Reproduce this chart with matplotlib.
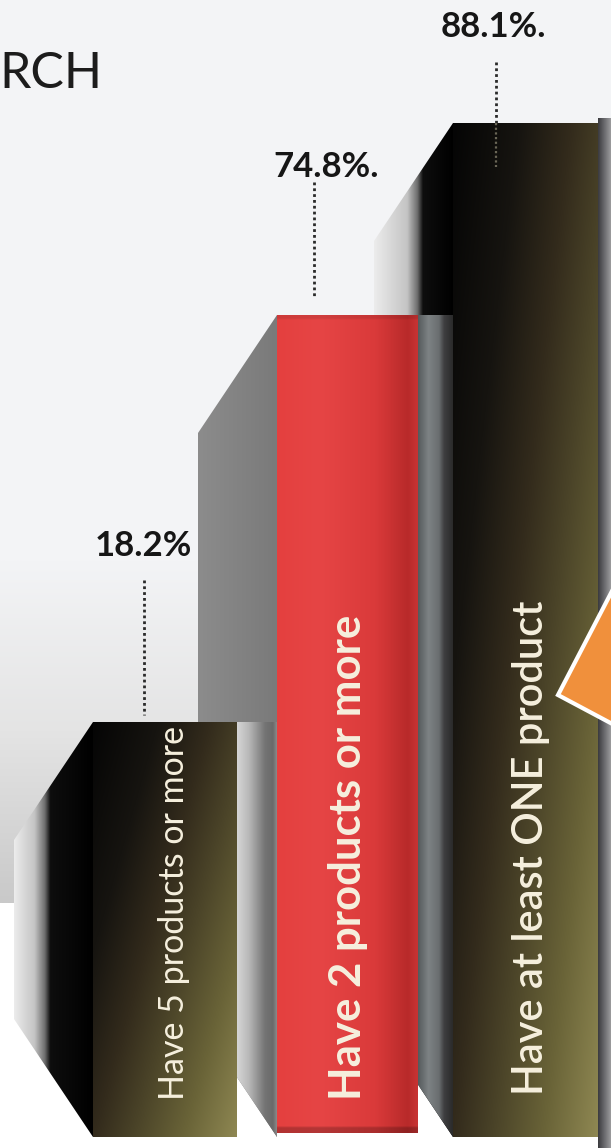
import numpy as np
import matplotlib.pyplot as plt
from matplotlib.colors import LinearSegmentedColormap
from matplotlib.patches import Polygon

plt.rcParams['font.family'] = ['Lato', 'DejaVu Sans']

# data
groups = ["Have 5 products or more", "Have 2 products or more", "Have at least ONE product"]
shares = [18.2, 74.8, 88.1]
label_tail = ["", ".", "."]
heading = "RCH"

# canvas in pixels
W, H = 611, 1148
base_px = 1137

# bar geometry (pixels)
bar_left = [93, 277, 453]
bar_width = [144, 141, 145]
depth_x, depth_y = 79, 118
side_split = [0.46, None, 0.62]
text_dx = [9, 1, 6]
text_bottom = [1100, 1100, 1095]
text_size = [24.5, 31.5, 30]
text_weight = ["normal", "bold", "semibold"]
label_x = [143, 326, 493]
label_rise = [166, 138, 86]
dot_x = [144, 314, 496]
dot_span = [(142, 7), (133, 17), (61, 0)]
dot_into = [0, 0, 44]

# the value axis is not uniform: value -> height in px above the base line
scale_vals = [-10, 0, 18.2, 74.8, 88.1, 120]
scale_px = [-228, 0, 415, 822, 1014, 1244]


def fwd(v):
    return np.interp(v, scale_vals, scale_px)


def inv(h):
    return np.interp(h, scale_px, scale_vals)


def cmap(*colors):
    return LinearSegmentedColormap.from_list("", list(colors))


def side_dark(s):
    return cmap((0, "#ececec"), (s - 0.2, "#c4c4c4"), (s - 0.07, "#6e6e6e"),
                (s, "#0e0e0e"), (1, "#000000"))


olive = cmap((0, "#050505"), (0.25, "#161410"), (0.45, "#332b1c"),
             (0.6, "#4a4328"), (0.8, "#6a6438"), (1, "#8e8752"))
side_grey = cmap("#8c8c8c", "#838383", "#7a7a7a")
gap_left = cmap((0, "#d6d6d6"), (0.3, "#b8b8b8"), (0.7, "#747474"),
                (0.9, "#6a6a6a"), (1, "#8a8a8a"))
gap_right = cmap((0, "#555a5c"), (0.3, "#7d8284"), (0.6, "#6a6e70"),
                 (0.75, "#3e3e40"), (1, "#2a2a2a"))
red = cmap((0, "#e4403f"), (0.3, "#e64545"), (0.7, "#da3a3a"),
           (0.93, "#b82a2a"), (1, "#c83333"))
edge_strip = cmap("#3a3a3e", "#6a6a6e", "#9c9c9e")
panel = cmap("#f3f4f6", "#e4e4e4", "#c9c9c9")

fig = plt.figure(figsize=(W / 100, H / 100), dpi=100)
fig.patch.set_facecolor("#f3f4f6")

ax = fig.add_axes([0, 0, 1, 1])
ax.set_xlim(0, W)
ax.set_ylim(H, 0)
ax.set_autoscale_on(False)
ax.axis("off")

bx = fig.add_axes([0, 0, 1, 1])
bx.patch.set_alpha(0)
bx.set_yscale("function", functions=(fwd, inv))
bx.set_xlim(0, W)
bx.set_ylim(inv(base_px - H), inv(base_px))
bx.axis("off")

bars = bx.bar(bar_left, shares, width=bar_width, align="edge",
              color="none", edgecolor="none")


def to_px(x, v):
    return ax.transData.inverted().transform(bx.transData.transform((x, v)))


tops = [to_px(x, v)[1] for x, v in zip(bar_left, shares)]


def fill(arr, extent, z, cm=None, clip=None):
    im = ax.imshow(arr, cmap=cm, extent=extent, aspect="auto",
                   interpolation="bilinear", zorder=z)
    if clip is not None:
        im.set_clip_path(clip)
    return im


ramp = np.linspace(0, 1, 256)[None, :]
vramp = np.linspace(0, 1, 256)[:, None]

# background panel shading and white floor
fill(vramp, [0, 380, 903, 560], 0.2, panel)
ax.fill_between([0, W], 903, H, color="white", zorder=0.3, lw=0)
fill(ramp, [598, W, H, 118], 0.4, edge_strip)

n = len(shares)
for i in range(n):
    xl, w, top = bar_left[i], bar_width[i], tops[i]
    z = 2 * (n - i)

    # slanted side face
    side = Polygon([(xl, top), (xl - depth_x, top + depth_y),
                    (xl - depth_x, base_px - depth_y), (xl, base_px)],
                   closed=True, facecolor="none", edgecolor="none")
    ax.add_patch(side)
    fill(ramp, [xl - depth_x, xl, base_px, top], z,
         side_grey if side_split[i] is None else side_dark(side_split[i]), side)

    # lighter band of the side face that shows between the fronts
    if i > 0:
        fill(ramp, [bar_left[i - 1] + bar_width[i - 1], xl, base_px, tops[i - 1]],
             z + 0.5, gap_left if i == 1 else gap_right, side)

    # front face
    if i == 1:
        rgb = red(np.linspace(0, 1, 200))[:, :3][None, :, :].repeat(400, axis=0)
        rgb[-3:] *= 0.78
        rgb[:2] *= 0.9
        fill(rgb, [xl, xl + w, base_px - 4, top], z + 1, clip=bars[i])
    else:
        gx, gy = np.meshgrid(np.linspace(0, 1, 200), np.linspace(0, 1, 400))
        fill(0.55 * gx + 0.45 * gy, [xl, xl + w, base_px, top], z + 1, olive, bars[i])

    ax.text(xl + w / 2 + text_dx[i], text_bottom[i], groups[i], rotation=90,
            ha="center", va="bottom", fontsize=text_size[i],
            fontweight=text_weight[i], color="#f6f0de", zorder=20)

    # value label with dotted leader
    ax.text(label_x[i], top - label_rise[i], f"{shares[i]:.1f}%{label_tail[i]}",
            ha="center", va="baseline", fontsize=25, fontweight="bold",
            color="#161616", zorder=20)
    ax.plot([dot_x[i]] * 2, [top - dot_span[i][0], top - dot_span[i][1]],
            ls=(0, (1, 1.1)), lw=2, color="#2a2a2a", zorder=20)
    if dot_into[i]:
        ax.plot([dot_x[i]] * 2, [top, top + dot_into[i]],
                ls=(0, (1, 1.1)), lw=1.6, color="#6a6656", zorder=20)

ax.text(-1, 88, heading, fontsize=36, ha="left", va="baseline", color="#1c1c1c")

# orange pointer coming in from the right
ax.add_patch(Polygon([(558, 695), (650, 518), (650, 744)], closed=True,
                     facecolor="#f0903c", edgecolor="white", lw=3, zorder=25))

fig.savefig("out.png", dpi=100, facecolor=fig.get_facecolor())
